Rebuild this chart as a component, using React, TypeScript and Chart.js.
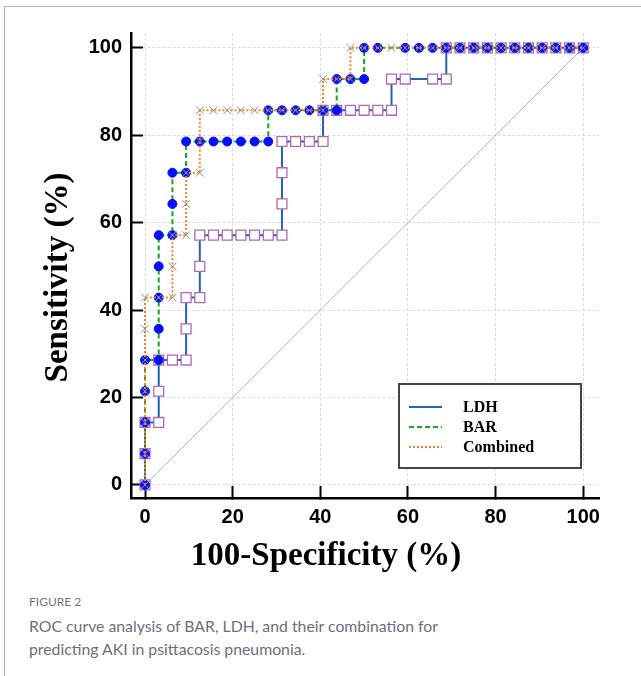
import React, { useEffect, useRef } from 'react';
import { Chart, registerables } from 'chart.js';

Chart.register(...registerables);

// ---- data (percent) ----
const tickValues = [0, 20, 40, 60, 80, 100];

const ldhX = [0, 0, 0, 3.125, 3.125, 3.125, 6.25, 9.375, 9.375, 9.375, 12.5, 12.5, 12.5, 15.625, 18.75, 21.875, 25, 28.125, 31.25, 31.25, 31.25, 31.25, 34.375, 37.5, 40.625, 40.625, 43.75, 46.875, 50, 53.125, 56.25, 56.25, 59.375, 65.625, 68.75, 68.75, 71.875, 75, 78.125, 81.25, 84.375, 87.5, 90.625, 93.75, 96.875, 100];
const ldhY = [0, 7.14, 14.29, 14.29, 21.43, 28.57, 28.57, 28.57, 35.71, 42.86, 42.86, 50, 57.14, 57.14, 57.14, 57.14, 57.14, 57.14, 57.14, 64.29, 71.43, 78.57, 78.57, 78.57, 78.57, 85.71, 85.71, 85.71, 85.71, 85.71, 85.71, 92.86, 92.86, 92.86, 92.86, 100, 100, 100, 100, 100, 100, 100, 100, 100, 100, 100];

const barX = [0, 0, 0, 0, 0, 3.125, 3.125, 3.125, 3.125, 3.125, 6.25, 6.25, 6.25, 9.375, 9.375, 12.5, 15.625, 18.75, 21.875, 25, 28.125, 28.125, 31.25, 34.375, 37.5, 40.625, 43.75, 43.75, 46.875, 50, 50, 53.125, 59.375, 62.5, 65.625, 68.75, 71.875, 75, 78.125, 81.25, 84.375, 87.5, 90.625, 93.75, 96.875, 100];
const barY = [0, 7.14, 14.29, 21.43, 28.57, 28.57, 35.71, 42.86, 50, 57.14, 57.14, 64.29, 71.43, 71.43, 78.57, 78.57, 78.57, 78.57, 78.57, 78.57, 78.57, 85.71, 85.71, 85.71, 85.71, 85.71, 85.71, 92.86, 92.86, 92.86, 100, 100, 100, 100, 100, 100, 100, 100, 100, 100, 100, 100, 100, 100, 100, 100];

const combX = [0, 0, 0, 0, 0, 0, 0, 3.125, 6.25, 6.25, 6.25, 9.375, 9.375, 9.375, 12.5, 12.5, 12.5, 15.625, 18.75, 21.875, 25, 28.125, 31.25, 34.375, 37.5, 40.625, 40.625, 43.75, 46.875, 46.875, 50, 53.125, 56.25, 59.375, 62.5, 65.625, 68.75, 71.875, 75, 78.125, 81.25, 84.375, 87.5, 90.625, 93.75, 96.875, 100];
const combY = [0, 7.14, 14.29, 21.43, 28.57, 35.71, 42.86, 42.86, 42.86, 50, 57.14, 57.14, 64.29, 71.43, 71.43, 78.57, 85.71, 85.71, 85.71, 85.71, 85.71, 85.71, 85.71, 85.71, 85.71, 85.71, 92.86, 92.86, 92.86, 100, 100, 100, 100, 100, 100, 100, 100, 100, 100, 100, 100, 100, 100, 100, 100, 100, 100];

const diagX = [0, 100];
const diagY = [0, 100];

const seriesNames = ['LDH', 'BAR', 'Combined'];
const xTitle = '100-Specificity (%)';
const yTitle = 'Sensitivity (%)';
const captionLabel = 'FIGURE 2';
const captionLines = [
  'ROC curve analysis of BAR, LDH, and their combination for',
  'predicting AKI in psittacosis pneumonia.',
];

const toPoints = (xs: number[], ys: number[]) => xs.map((x, i) => ({ x, y: ys[i] }));

const LDH_LINE = '#2462b4';
const BAR_LINE = '#1aa61a';
const COMB_LINE = '#f5822a';

const overlayPlugin = {
  id: 'overlay',
  afterDraw(chart: any) {
    const { ctx, chartArea } = chart;
    ctx.save();
    // legend box
    const bw = 182;
    const bh = 84;
    const bx = chartArea.right - 18 - bw;
    const by = chartArea.bottom - 30 - bh;
    ctx.fillStyle = '#ffffff';
    ctx.fillRect(bx, by, bw, bh);
    ctx.strokeStyle = '#444444';
    ctx.lineWidth = 2;
    ctx.strokeRect(bx, by, bw, bh);
    const styles = [
      { color: LDH_LINE, dash: [] as number[] },
      { color: BAR_LINE, dash: [5, 3] },
      { color: COMB_LINE, dash: [2, 2] },
    ];
    ctx.font = "bold 16px 'Liberation Serif', 'Times New Roman', serif";
    ctx.textBaseline = 'middle';
    ctx.textAlign = 'left';
    seriesNames.forEach((name, i) => {
      const yy = by + 23 + i * 20;
      ctx.beginPath();
      ctx.setLineDash(styles[i].dash);
      ctx.strokeStyle = styles[i].color;
      ctx.lineWidth = 2;
      ctx.moveTo(bx + 10, yy);
      ctx.lineTo(bx + 43, yy);
      ctx.stroke();
      ctx.setLineDash([]);
      ctx.fillStyle = '#000';
      ctx.fillText(name, bx + 64, yy + 1);
    });
    // axis titles
    ctx.fillStyle = '#000';
    ctx.font = "bold 33px 'Liberation Serif', 'Times New Roman', serif";
    ctx.textAlign = 'center';
    ctx.textBaseline = 'middle';
    ctx.fillText(xTitle, 326, 556);
    ctx.translate(58, (chartArea.top + chartArea.bottom) / 2 + 12);
    ctx.rotate(-Math.PI / 2);
    ctx.fillText(yTitle, 0, 0);
    ctx.restore();
  },
};

const tickFont = { family: "'Liberation Sans', Arial, sans-serif", size: 20, weight: 'bold' as const };

export default function App() {
  const ref = useRef<HTMLCanvasElement | null>(null);
  useEffect(() => {
    if (!ref.current) return;
    const chart = new Chart(ref.current, {
      type: 'scatter',
      data: {
        datasets: [
          {
            label: seriesNames[2],
            data: toPoints(combX, combY),
            showLine: true,
            borderColor: COMB_LINE,
            borderWidth: 2,
            borderDash: [2, 2],
            pointStyle: 'crossRot',
            pointRadius: 5.5,
            pointBorderColor: '#7f9c7f',
            pointBackgroundColor: '#7f9c7f',
            pointBorderWidth: 1,
            order: 0,
          } as any,
          {
            label: seriesNames[1],
            data: toPoints(barX, barY),
            showLine: true,
            borderColor: BAR_LINE,
            borderWidth: 2,
            borderDash: [5, 3],
            pointStyle: 'circle',
            pointRadius: 4.5,
            pointBackgroundColor: '#0a10f5',
            pointBorderColor: '#0a10f5',
            pointBorderWidth: 1,
            order: 1,
          } as any,
          {
            label: seriesNames[0],
            data: toPoints(ldhX, ldhY),
            showLine: true,
            borderColor: LDH_LINE,
            borderWidth: 2,
            pointStyle: 'rect',
            pointRadius: 7,
            pointBackgroundColor: '#ffffff',
            pointBorderColor: '#b068b4',
            pointBorderWidth: 1.3,
            order: 2,
          } as any,
          {
            label: 'diag',
            data: toPoints(diagX, diagY),
            showLine: true,
            borderColor: '#c4acac',
            borderWidth: 1,
            pointRadius: 0,
            order: 3,
          } as any,
        ],
      },
      options: {
        animation: false,
        responsive: false,
        layout: { padding: { top: 30, right: 42, left: 0, bottom: 0 } },
        elements: { line: { tension: 0, fill: false } },
        plugins: { legend: { display: false }, tooltip: { enabled: false } },
        scales: {
          x: {
            type: 'linear',
            min: -3.2,
            max: 103.6,
            afterBuildTicks: (s: any) => {
              s.ticks = tickValues.map((v) => ({ value: v }));
            },
            afterFit: (s: any) => {
              s.height = 92;
            },
            grid: { color: '#dcdcdc', lineWidth: 1, drawTicks: true, tickLength: -12, tickColor: '#000', tickWidth: 2 },
            border: { display: true, color: '#000', width: 2.5, dash: [3, 2] },
            ticks: { padding: 19, color: '#000', font: tickFont, maxRotation: 0, autoSkip: false },
          },
          y: {
            type: 'linear',
            min: -3,
            max: 103.4,
            afterBuildTicks: (s: any) => {
              s.ticks = tickValues.map((v) => ({ value: v }));
            },
            afterFit: (s: any) => {
              s.width = 131;
            },
            grid: { color: '#dcdcdc', lineWidth: 1, drawTicks: true, tickLength: -12, tickColor: '#000', tickWidth: 2 },
            border: { display: true, color: '#000', width: 2.5, dash: [3, 2] },
            ticks: { padding: 21, color: '#000', font: tickFont, autoSkip: false },
          },
        },
      } as any,
      plugins: [overlayPlugin],
    });
    return () => chart.destroy();
  }, []);

  return (
    <div style={{ position: 'fixed', left: 0, top: 0, width: 641, height: 676, background: '#fff', overflow: 'hidden' }}>
      <div
        style={{
          position: 'absolute',
          left: 4,
          top: 6,
          width: 640,
          height: 680,
          borderTop: '1.5px solid #b4b4bc',
          borderLeft: '1.5px solid #b4b4bc',
          boxSizing: 'border-box',
        }}
      />
      <canvas ref={ref} width={641} height={590} style={{ position: 'absolute', left: 0, top: 0 }} />
      <div
        style={{
          position: 'absolute',
          left: 29,
          top: 594,
          fontFamily: "Lato, 'Open Sans', sans-serif",
          fontSize: 12,
          lineHeight: '16px',
          color: '#6e737e',
        }}
      >
        {captionLabel}
      </div>
      <div
        style={{
          position: 'absolute',
          left: 29,
          top: 614,
          fontFamily: "Lato, 'Open Sans', sans-serif",
          fontSize: 15.8,
          lineHeight: '23.4px',
          color: '#6b707c',
          whiteSpace: 'nowrap',
        }}
      >
        {captionLines.map((l, i) => (
          <div key={i}>{l}</div>
        ))}
      </div>
    </div>
  );
}
